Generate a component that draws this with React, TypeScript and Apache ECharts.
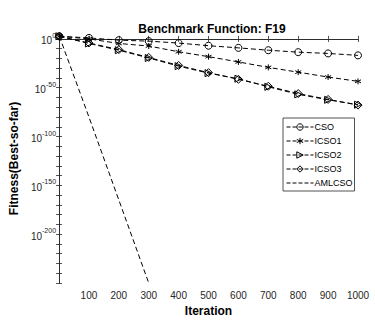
import React, { useEffect, useRef } from "react";
import * as echarts from "echarts";

const iterations = [1, 100, 200, 300, 400, 500, 600, 700, 800, 900, 1000];
// log10 of best-so-far fitness
const csoLog10 = [2.7, 1.0, -1.3, -2.3, -4.3, -7.0, -9.2, -11.6, -13.6, -14.9, -16.9];
const icso1Log10 = [2.7, 0.0, -4.7, -7.3, -13.2, -18.2, -23.6, -29.2, -34.1, -39.1, -43.5];
const icso2Log10 = [2.7, -4.7, -11.6, -19.6, -27.9, -35.1, -40.8, -49.1, -56.8, -62.4, -67.4];
const icso3Log10 = [2.7, -4.2, -11.0, -19.0, -27.2, -34.6, -41.4, -48.5, -56.0, -62.0, -67.8];
const amlIterations = [1, 100, 200, 300];
const amlcsoLog10 = [2.7, -80, -165, -250];

const yLabelExponents = [0, -50, -100, -150, -200];
const xTickLabels = [100, 200, 300, 400, 500, 600, 700, 800, 900, 1000];

const FONT = "'Liberation Sans', Arial, Helvetica, sans-serif";
const AX = "#262626";
const STAR = "path://M5,0L5,10M0.67,2.5L9.33,7.5M0.67,7.5L9.33,2.5";

function pairs(xs: number[], ys: number[]) {
  return xs.map((x, i) => [x, ys[i]]);
}

export default function App() {
  const ref = useRef<HTMLDivElement>(null);
  useEffect(() => {
    document.body.style.margin = "0";
    const chart = echarts.init(ref.current!, null, { renderer: "svg" });
    const lineStyle = { color: "#000", width: 1, type: [5, 3] as any };
    const itemStyle = { color: "rgba(0,0,0,0)", borderColor: "#000", borderWidth: 1 };
    const mk = (name: string, data: number[][], symbol: string, size: number, rotate = 0, show = true) => ({
      name,
      type: "line",
      data,
      symbol,
      symbolSize: size,
      symbolRotate: rotate,
      showSymbol: show,
      lineStyle,
      itemStyle,
      xAxisIndex: 0,
      yAxisIndex: 0,
      clip: true,
      z: 3,
    });
    const yTickStyle = {
      min: -250,
      max: 5,
      interval: 10,
      axisLine: { show: true, lineStyle: { color: AX, width: 0.8 } },
      axisTick: { show: true, inside: true, length: 3, lineStyle: { color: AX, width: 0.8 } },
      splitLine: { show: false },
    };
    const xTickStyle = {
      type: "value",
      min: 0,
      max: 1000,
      interval: 100,
      axisLine: { show: true, lineStyle: { color: AX, width: 0.8 } },
      axisTick: { show: true, inside: true, length: 3, lineStyle: { color: AX, width: 0.8 } },
      splitLine: { show: false },
    };
    chart.setOption({
      animation: false,
      backgroundColor: "#fff",
      title: {
        text: "Benchmark Function: F19",
        left: 207,
        top: 18,
        textAlign: "center",
        textStyle: { fontFamily: FONT, fontSize: 12, fontWeight: "bold", color: "#000" },
      },
      grid: { left: 56, right: 17, top: 34, bottom: 32 },
      legend: {
        orient: "vertical",
        left: 283,
        top: 118,
        padding: [4, 2, 3, 3],
        itemGap: 4,
        itemWidth: 27,
        itemHeight: 8,
        backgroundColor: "#fff",
        borderColor: AX,
        borderWidth: 0.8,
        borderRadius: 0,
        itemStyle: { color: "rgba(0,0,0,0)", borderColor: "#000", borderWidth: 1 },
        lineStyle: { color: "#000", width: 1, type: [4, 2] },
        textStyle: { fontFamily: FONT, fontSize: 9, color: "#000", padding: [0, 0, 0, -4], lineHeight: 10 },
        data: [
          { name: "CSO" },
          { name: "ICSO1" },
          { name: "ICSO2" },
          { name: "ICSO3" },
          { name: "AMLCSO", itemStyle: { borderWidth: 0, borderColor: "rgba(0,0,0,0)", color: "rgba(0,0,0,0)" } },
        ],
      },
      xAxis: [
        {
          ...xTickStyle,
          position: "bottom",
          name: "Iteration",
          nameLocation: "middle",
          nameGap: 22,
          nameTextStyle: { fontFamily: FONT, fontSize: 12, fontWeight: "bold", color: "#000" },
          axisLabel: {
            fontFamily: FONT,
            fontSize: 10,
            color: AX,
            margin: 7,
            formatter: (v: number) => (xTickLabels.includes(v) ? String(v) : ""),
          },
        },
        { ...xTickStyle, position: "top", axisLabel: { show: false } },
      ],
      yAxis: [
        {
          type: "value",
          ...yTickStyle,
          position: "left",
          name: "Fitness(Best-so-far)",
          nameLocation: "middle",
          nameGap: 32,
          nameRotate: 90,
          nameTextStyle: { fontFamily: FONT, fontSize: 12, fontWeight: "bold", color: "#000" },
          axisLabel: {
            fontFamily: FONT,
            margin: 3,
            formatter: (v: number) =>
              yLabelExponents.includes(v) ? `{b|10}{s|${v}}` : "",
            rich: {
              b: { fontFamily: FONT, fontSize: 10, color: AX, lineHeight: 14, verticalAlign: "bottom" },
              s: { fontFamily: FONT, fontSize: 7, color: AX, lineHeight: 14, verticalAlign: "top" },
            },
          },
        },
        { type: "value", ...yTickStyle, position: "right", axisLabel: { show: false } },
      ],
      series: [
        mk("CSO", pairs(iterations, csoLog10), "circle", 7),
        mk("ICSO1", pairs(iterations, icso1Log10), STAR, 6),
        mk("ICSO2", pairs(iterations, icso2Log10), "triangle", 7, -90),
        mk("ICSO3", pairs(iterations, icso3Log10), "diamond", 8),
        mk("AMLCSO", pairs(amlIterations, amlcsoLog10), "circle", 0, 0, false),
      ],
    });
    return () => chart.dispose();
  }, []);
  return <div ref={ref} style={{ width: 375, height: 322 }} />;
}
